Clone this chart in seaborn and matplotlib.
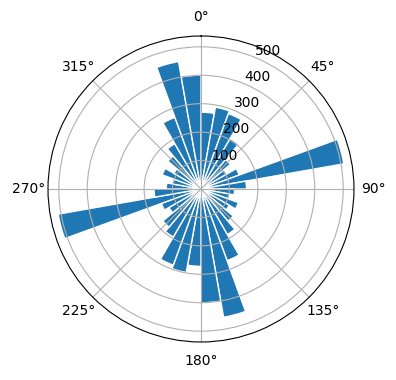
import numpy as np
import matplotlib
matplotlib.use("Agg")
import matplotlib.pyplot as plt
import seaborn as sns

# direction bins (degrees, left edge of each 10 degree sector)
bin_starts = list(range(0, 360, 10))
counts = [
    270, 292, 282, 205, 135, 105, 143, 510, 160,
    118, 100, 140, 115, 148, 185, 268, 458, 400,
    272, 298, 285, 195, 175, 130, 148, 510, 165,
    122, 100, 145, 110, 152, 184, 268, 455, 400,
]
bin_width_deg = 10

color = sns.color_palette("tab10")[0]

fig = plt.figure(figsize=(3.96, 3.8), dpi=100)
ax = fig.add_axes([0.1212, 0.1, 0.7727, 0.8053], projection="polar")
ax.set_theta_zero_location("N")
ax.set_theta_direction(-1)

ax.bar(
    np.deg2rad(bin_starts),
    counts,
    width=np.deg2rad(bin_width_deg),
    align="edge",
    color=color,
    edgecolor="white",
    linewidth=1,
)
ax.set_ylim(0, 538)
ax.set_rticks([100, 200, 300, 400, 500])

fig.savefig("out.png", dpi=100)
